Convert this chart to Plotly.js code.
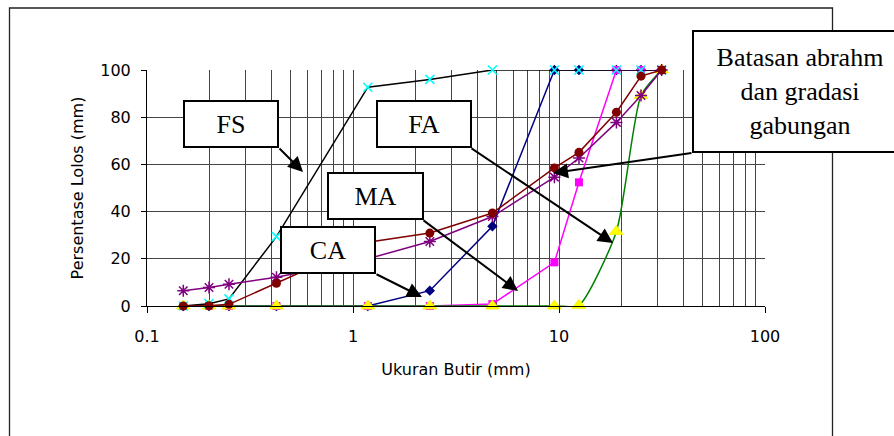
<!DOCTYPE html>
<html>
<head>
<meta charset="utf-8">
<script src="https://cdn.plot.ly/plotly-3.0.1.min.js"></script>
<style>html,body{margin:0;padding:0;background:#fff;}#chart{width:894px;height:436px;}</style>
</head>
<body>
<div id="chart"></div>
<script>
// Ukuran saringan (mm)
const sieveSizes = [0.15, 0.2, 0.25, 0.425, 1.18, 2.36, 4.75, 9.5, 12.5, 19, 25, 31.5];
// Persentase lolos (%) per series
const seriesFS = [0, 1, 3, 29.4, 92.7, 96, 100, 100, 100, 100, 100, 100];
const seriesMA = [0, 0, 0, 0, 0, 6.5, 33.8, 100, 100, 100, 100, 100];
const seriesFA = [0, 0, 0, 0, 0, 0, 0.8, 18.5, 52.4, 100, 100, 100];
const seriesCA = [0, 0, 0, 0, 0, 0, 0, 0, 0.3, 31.6, 89.2, 100];
const seriesGabungan = [0, 0.1, 0.7, 9.6, 27, 30.9, 39.4, 58.5, 65.1, 82.1, 97.4, 100];
const seriesBatasan = [6.5, 7.8, 9.2, 12.2, 20, 27.3, 37.9, 54.6, 62.7, 77.8, 89.2, 100];

const yTicks = [0, 20, 40, 60, 80, 100];
const xMajorTicks = [0.1, 1, 10, 100];
const xMajorLabels = ['0.1', '1', '10', '100'];
const xMinorTicks = [0.2,0.3,0.4,0.5,0.6,0.7,0.8,0.9,2,3,4,5,6,7,8,9,20,30,40,50,60,70,80,90];

// plot area in pixels
const L = 147, R = 765, T = 70, B = 306;
const px = v => (v - L) / (R - L);
const py = v => (B - v) / (B - T);

const traces = [
  {name: 'MA', x: sieveSizes, y: seriesMA, mode: 'lines+markers',
   line: {color: '#000080', width: 1.5},
   marker: {symbol: 'diamond', size: 8, color: '#000080'}},
  {name: 'FA', x: sieveSizes, y: seriesFA, mode: 'lines+markers',
   line: {color: '#FF00FF', width: 1.5},
   marker: {symbol: 'square', size: 8, color: '#FF00FF'}},
  {name: 'CA', x: sieveSizes, y: seriesCA, mode: 'lines+markers',
   line: {color: '#008000', width: 1.5, shape: 'spline', smoothing: 0.6},
   marker: {symbol: 'triangle-up', size: 12, color: '#FFFF00', line: {color: '#F0F000', width: 0.8}}},
  {name: 'FS', x: sieveSizes, y: seriesFS, mode: 'lines+markers',
   line: {color: '#000000', width: 1.5},
   marker: {symbol: 'x-thin', size: 9, color: '#00FFFF', line: {color: '#00FFFF', width: 1.6}}},
  {name: 'Batasan', x: sieveSizes, y: seriesBatasan, mode: 'lines+markers',
   line: {color: '#800080', width: 1.5},
   marker: {symbol: 'asterisk-open', size: 10, color: '#800080', line: {color: '#800080', width: 1.5}}},
  {name: 'Gabungan', x: sieveSizes, y: seriesGabungan, mode: 'lines+markers',
   line: {color: '#800000', width: 1.5},
   marker: {symbol: 'circle', size: 9, color: '#800000'}}
];
traces.forEach(t => { t.cliponaxis = false; t.showlegend = false; t.type = 'scatter'; });

const boxFont = {family: 'Liberation Serif, Times New Roman, serif', size: 26, color: '#000'};
function box(text, x0, y0, x1, y1) {
  return {xref: 'paper', yref: 'paper', x: px((x0 + x1) / 2), y: py((y0 + y1) / 2),
    xanchor: 'center', yanchor: 'middle', showarrow: false, text: text,
    width: (x1 - x0) - 4, height: (y1 - y0) - 4, borderwidth: 2, borderpad: 0,
    bordercolor: '#000', bgcolor: '#fff', font: boxFont, align: 'center'};
}
function arrow(tx, ty, hx, hy) {
  return {xref: 'paper', yref: 'paper', x: px(hx), y: py(hy), ax: tx - hx, ay: ty - hy,
    text: '', showarrow: true, arrowhead: 2, arrowsize: 1.5, arrowwidth: 2,
    arrowcolor: '#000', borderpad: 0, font: {size: 1}};
}

const annotations = [
  arrow(279, 148, 303, 172),
  arrow(471, 148, 613, 243),
  arrow(423, 220, 518, 291),
  arrow(376, 274, 422, 297),
  arrow(692, 153, 553, 173),
  box('FS', 183, 100, 279, 148),
  box('FA', 376, 100, 472, 148),
  box('MA', 327, 172, 424, 220),
  box('CA', 280, 226, 376, 274),
  box('Batasan abrahm<br>dan gradasi<br>gabungan', 692, 30, 908, 153)
];

const axisFont = {family: 'DejaVu Sans, Arial, sans-serif', size: 16, color: '#000'};
const gridColor = '#454545';

const layout = {
  width: 894, height: 436,
  margin: {l: L, r: 894 - R, t: T, b: 436 - B, pad: 0},
  paper_bgcolor: '#fff', plot_bgcolor: '#fff',
  showlegend: false,
  font: axisFont,
  xaxis: {
    type: 'log', range: [-1, 2], autorange: false,
    tickmode: 'array', tickvals: xMajorTicks, ticktext: xMajorLabels,
    ticks: 'outside', ticklen: 6, tickcolor: '#000', tickwidth: 1,
    showgrid: true, gridcolor: gridColor, gridwidth: 1,
    minor: {tickmode: 'array', tickvals: xMinorTicks, showgrid: true, gridcolor: gridColor, gridwidth: 1, ticks: ''},
    showline: true, linecolor: '#000', linewidth: 1,
    zeroline: false, tickfont: axisFont, ticklabelstandoff: 10,
    title: {text: 'Ukuran Butir (mm)', font: axisFont, standoff: 18}
  },
  yaxis: {
    range: [0, 100], autorange: false,
    tickmode: 'array', tickvals: yTicks,
    ticks: 'outside', ticklen: 5, tickcolor: '#000', tickwidth: 1,
    showgrid: true, gridcolor: gridColor, gridwidth: 1,
    showline: true, linecolor: '#000', linewidth: 1,
    zeroline: false, tickfont: axisFont, ticklabelstandoff: 7,
    title: {text: 'Persentase Lolos (mm)', font: axisFont, standoff: 12}
  },
  shapes: [
    {type: 'rect', xref: 'paper', yref: 'paper', layer: 'below',
     x0: px(9.5), x1: px(832.5), y0: py(460), y1: py(8),
     line: {color: '#222', width: 1.3}, fillcolor: 'rgba(0,0,0,0)'}
  ],
  annotations: annotations
};

Plotly.newPlot('chart', traces, layout, {staticPlot: true, displayModeBar: false});
</script>
</body>
</html>
